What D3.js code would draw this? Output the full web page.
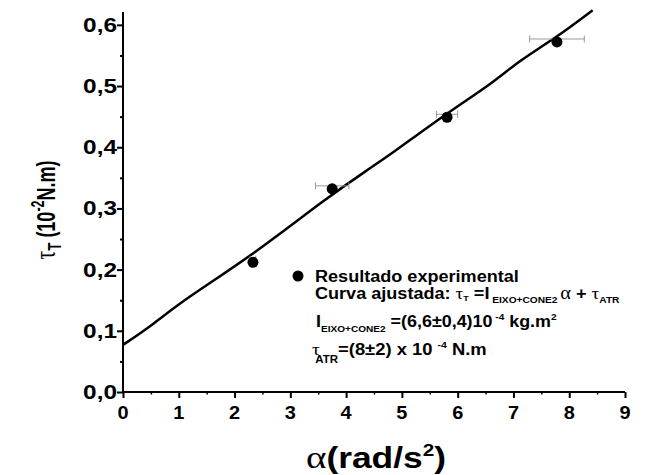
<!DOCTYPE html>
<html>
<head>
<meta charset="utf-8">
<script src="https://cdn.jsdelivr.net/npm/d3@7"></script>
<style>
    body { margin: 0; background: #fff; }
    text { font-family: "Liberation Sans", Arial, sans-serif; font-weight: bold; fill: #000; }
    .greek { font-family: "Liberation Serif", "DejaVu Serif", serif; font-weight: normal; }
</style>
</head>
<body>
<svg width="645" height="475"></svg>
<script>
// experimental points (alpha in rad/s^2, torque in 10^-2 N.m)
const alphaVals = [2.33, 3.75, 5.81, 7.78];
const torqueVals = [0.212, 0.332, 0.449, 0.572];
const alphaErr = [0.05, 0.30, 0.19, 0.49];

// fitted curve
const fitAlpha = [0, 0.52, 1.08, 2.33, 3.62, 4.43, 4.78, 5.81, 6.63, 7.11, 7.78, 8.42];
const fitTorque = [0.077, 0.109, 0.150, 0.224, 0.315, 0.366, 0.387, 0.456, 0.505, 0.542, 0.580, 0.624];

const xTicks = [0, 1, 2, 3, 4, 5, 6, 7, 8, 9];
const yTicks = [0, 0.1, 0.2, 0.3, 0.4, 0.5, 0.6];
const yTickLabels = ["0,0", "0,1", "0,2", "0,3", "0,4", "0,5", "0,6"];

var svg = d3.select("svg");

var x = d3.scaleLinear().domain([0, 9]).range([123, 625]);
var y = d3.scaleLinear().domain([0, 0.621]).range([392, 12]);

// text that is a bit wider than the font draws it
function stext(px, py, sx, size) {
    return svg.append("text")
        .attr("transform", `translate(${px},${py}) scale(${sx},1)`)
        .style("font-size", size + "px");
}

// x axis
var xAxis = svg.append("g")
    .attr("transform", `translate(0,${y(0)})`)
    .call(d3.axisBottom(x).tickValues(d3.range(0, 9.01, 0.5)).tickSize(3).tickFormat(""));
xAxis.selectAll(".tick line").attr("y2", d => Number.isInteger(d) ? 6 : 2.5);
xAxis.select(".domain").attr("d", `M${x(0)},0H${x(9)}`);
xAxis.selectAll("path, line").attr("stroke", "#000").attr("stroke-width", 2);
xAxis.selectAll(".tick").filter(d => !Number.isInteger(d)).select("line").attr("stroke-width", 1.5);

xTicks.forEach(d => {
    stext(x(d), 419, 1.05, 19).attr("text-anchor", "middle").text(d);
});

// y axis
var yAxis = svg.append("g")
    .attr("transform", `translate(${x(0)},0)`)
    .call(d3.axisLeft(y).tickValues(d3.range(0, 0.62, 0.05)).tickSize(3).tickFormat(""));
yAxis.selectAll(".tick line").attr("x2", (d, i) => i % 2 === 0 ? -6 : -3);
yAxis.select(".domain").attr("d", `M0,${y(0.621)}V${y(0)}`);
yAxis.selectAll("path, line").attr("stroke", "#000").attr("stroke-width", 2);

yTicks.forEach((d, i) => {
    stext(117, y(d) + 7, 1.22, 20).attr("text-anchor", "end").text(yTickLabels[i]);
});

// fitted curve
var fitPts = fitAlpha.map((a, i) => [a, fitTorque[i]]);
svg.append("path")
    .datum(fitPts)
    .attr("fill", "none")
    .attr("stroke", "#000")
    .attr("stroke-width", 2.5)
    .attr("d", d3.line().curve(d3.curveBasis).x(d => x(d[0])).y(d => y(d[1])));

// error bars
var err = svg.append("g").attr("stroke", "#999").attr("stroke-width", 1);
alphaVals.forEach((a, i) => {
    var yy = y(torqueVals[i]) - 3;
    var x1 = x(a - alphaErr[i]), x2 = x(a + alphaErr[i]);
    err.append("line").attr("x1", x1).attr("x2", x2).attr("y1", yy).attr("y2", yy);
    err.append("line").attr("x1", x1).attr("x2", x1).attr("y1", yy - 3.5).attr("y2", yy + 3.5);
    err.append("line").attr("x1", x2).attr("x2", x2).attr("y1", yy - 3.5).attr("y2", yy + 3.5);
});

// points
svg.append("g").selectAll("circle")
    .data(alphaVals)
    .enter().append("circle")
    .attr("cx", d => x(d))
    .attr("cy", (d, i) => y(torqueVals[i]))
    .attr("r", 5.5)
    .attr("fill", "#000");

// axis titles
var xt = stext(376, 468, 1.22, 29).attr("text-anchor", "middle");
xt.append("tspan").attr("class", "greek").style("font-size", "32px").text("α");
xt.append("tspan").text("(rad/s");
xt.append("tspan").attr("dy", -12).style("font-size", "17px").text("2");
xt.append("tspan").attr("dy", 12).text(")");

var yt = svg.append("text")
    .attr("transform", "translate(55,210) scale(1.25,0.9) rotate(-90)")
    .attr("text-anchor", "middle")
    .style("font-size", "20px");
yt.append("tspan").attr("class", "greek").style("font-size", "24px").text("τ");
yt.append("tspan").attr("dy", 5).style("font-size", "15px").text("T");
yt.append("tspan").attr("dy", -5).text("  (10");
yt.append("tspan").attr("dy", -9).style("font-size", "14px").text("-2");
yt.append("tspan").attr("dy", 9).text("N.m)");

// legend
svg.append("circle").attr("cx", 298).attr("cy", 276).attr("r", 5.5).attr("fill", "#000");
stext(315, 282, 1.13, 16).text("Resultado experimental");

var l2 = stext(315, 299, 1.13, 16);
l2.append("tspan").text("Curva ajustada:  ");
l2.append("tspan").attr("class", "greek").style("font-size", "17px").text("τ");
l2.append("tspan").attr("dy", 2).style("font-size", "8px").text("T");
l2.append("tspan").attr("dy", -2).text(" =I");
l2.append("tspan").attr("dy", 4).style("font-size", "9px").text(" EIXO+CONE2 ");
l2.append("tspan").attr("dy", -4).attr("class", "greek").style("font-size", "18px").text("α");
l2.append("tspan").text(" + ");
l2.append("tspan").attr("class", "greek").style("font-size", "17px").text("τ");
l2.append("tspan").attr("dy", 4).style("font-size", "9px").text("ATR");

var l3 = stext(316, 327, 1.12, 16);
l3.append("tspan").text("I");
l3.append("tspan").attr("dy", 5).style("font-size", "9px").text("EIXO+CONE2");
l3.append("tspan").attr("dy", -5).text(" =(6,6±0,4)10");
l3.append("tspan").attr("dy", -7).style("font-size", "9px").text(" -4");
l3.append("tspan").attr("dy", 7).text(" kg.m");
l3.append("tspan").attr("dy", -7).style("font-size", "9px").text("2");

var l4 = stext(312, 355, 1.15, 16);
l4.append("tspan").attr("class", "greek").style("font-size", "17px").text("τ");
l4.append("tspan").attr("dy", 8).attr("dx", -4).style("font-size", "10px").text("ATR");
l4.append("tspan").attr("dy", -8).text("=(8±2) x 10 ");
l4.append("tspan").attr("dy", -7).style("font-size", "9px").text("-4");
l4.append("tspan").attr("dy", 7).text("   N.m");
</script>
</body>
</html>
